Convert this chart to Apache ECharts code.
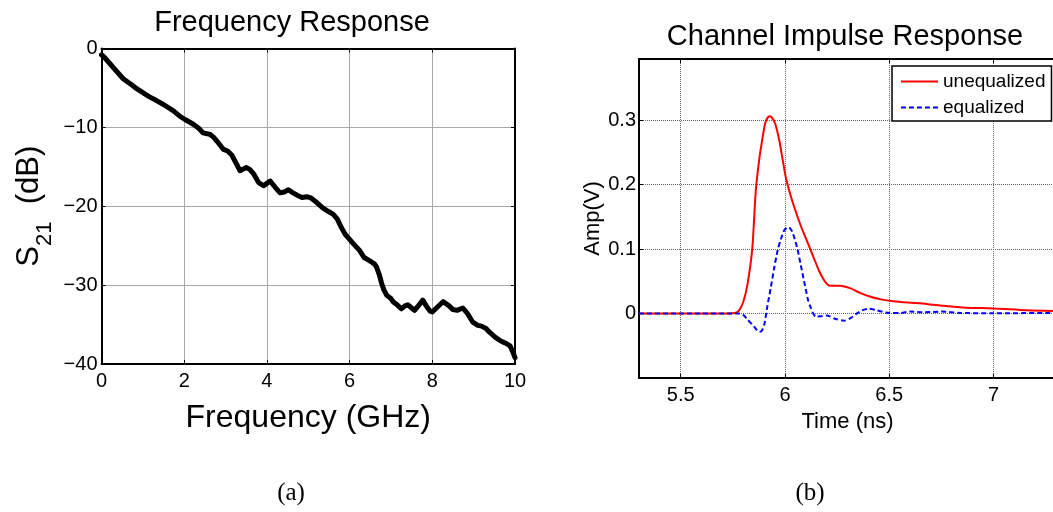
<!DOCTYPE html>
<html><head><meta charset="utf-8">
<script src="https://cdn.jsdelivr.net/npm/echarts@6/dist/echarts.min.js"></script>
<style>html,body{margin:0;padding:0;background:#fff}#c{width:1053px;height:512px}</style>
</head><body><div id="c"></div>
<script>
// ---- Panel (a): Frequency response ----
const freqGHz = [0, 0.05, 0.2, 0.35, 0.52, 0.65, 0.73, 0.85, 1.0, 1.15, 1.33, 1.5, 1.74, 1.9, 2.02, 2.22, 2.35, 2.46, 2.55, 2.63, 2.72, 2.8, 2.95, 3.05, 3.15, 3.27, 3.35, 3.42, 3.5, 3.58, 3.68, 3.8, 3.92, 4.0, 4.08, 4.2, 4.32, 4.42, 4.52, 4.6, 4.73, 4.85, 4.97, 5.05, 5.2, 5.35, 5.5, 5.6, 5.7, 5.8, 5.9, 6.0, 6.1, 6.24, 6.35, 6.48, 6.6, 6.65, 6.72, 6.77, 6.83, 6.9, 7.0, 7.05, 7.15, 7.25, 7.35, 7.41, 7.5, 7.57, 7.65, 7.77, 7.85, 7.95, 8.0, 8.1, 8.26, 8.4, 8.5, 8.6, 8.74, 8.85, 8.98, 9.1, 9.19, 9.3, 9.39, 9.5, 9.6, 9.7, 9.79, 9.88, 9.95, 10.0];
const s21dB = [-0.8, -1.0, -1.9, -2.8, -3.8, -4.3, -4.6, -5.1, -5.6, -6.1, -6.6, -7.1, -7.9, -8.6, -9.0, -9.6, -10.1, -10.7, -10.8, -10.9, -11.3, -11.8, -12.8, -13.0, -13.5, -14.7, -15.5, -15.3, -15.1, -15.3, -15.9, -17.0, -17.4, -17.1, -16.8, -17.6, -18.3, -18.2, -17.9, -18.2, -18.6, -18.9, -18.8, -18.9, -19.5, -20.2, -20.7, -21.0, -21.6, -22.7, -23.6, -24.2, -24.8, -25.6, -26.5, -26.9, -27.3, -27.7, -28.7, -29.7, -30.6, -31.3, -31.7, -32.1, -32.5, -33.0, -32.6, -32.5, -32.9, -33.2, -32.7, -31.9, -32.6, -33.3, -33.4, -32.9, -32.1, -32.6, -33.1, -33.2, -32.9, -33.6, -34.7, -35.1, -35.2, -35.5, -36.0, -36.5, -36.9, -37.2, -37.4, -37.7, -38.5, -39.2];

// ---- Panel (b): Channel impulse response ----
const timeUnNs = [5.3, 5.5, 5.7, 5.76, 5.78, 5.8, 5.82, 5.843, 5.86, 5.875, 5.89, 5.905, 5.917, 5.928, 5.94, 5.953, 5.972, 5.99, 6.005, 6.03, 6.052, 6.075, 6.1, 6.13, 6.164, 6.187, 6.204, 6.22, 6.265, 6.315, 6.36, 6.41, 6.46, 6.52, 6.59, 6.68, 6.76, 6.87, 7.0, 7.16, 7.3];
const unequalizedV = [0, 0, 0, 0.001, 0.005, 0.018, 0.045, 0.1, 0.19, 0.235, 0.268, 0.295, 0.304, 0.306, 0.303, 0.295, 0.27, 0.237, 0.21, 0.18, 0.158, 0.137, 0.117, 0.093, 0.066, 0.052, 0.045, 0.043, 0.043, 0.039, 0.032, 0.026, 0.022, 0.019, 0.017, 0.015, 0.012, 0.009, 0.008, 0.005, 0.004];
const timeEqNs = [5.3, 5.5, 5.78, 5.8, 5.82, 5.851, 5.87, 5.884, 5.9, 5.916, 5.932, 5.948, 5.965, 5.98, 5.998, 6.017, 6.035, 6.06, 6.076, 6.092, 6.11, 6.124, 6.148, 6.175, 6.2, 6.24, 6.284, 6.31, 6.34, 6.37, 6.404, 6.44, 6.5, 6.555, 6.6, 6.67, 6.75, 6.84, 7.0, 7.3];
const equalizedV = [0, 0, 0, -0.002, -0.009, -0.02, -0.027, -0.028, -0.018, 0.012, 0.04, 0.07, 0.098, 0.115, 0.13, 0.134, 0.127, 0.1, 0.075, 0.05, 0.022, 0.009, -0.005, -0.004, -0.003, -0.008, -0.011, -0.008, -0.001, 0.005, 0.0075, 0.005, 0.001, 0.001, 0.003, 0.002, 0.003, 0.001, 0.0005, 0.001];

const seriesNames = ['unequalized', 'equalized'];
const titleA = 'Frequency Response';
const titleB = 'Channel Impulse Response';

const FONT = '"Liberation Sans", Arial, sans-serif';
const zip = (xs, ys) => xs.map((x, i) => [x, ys[i]]);
const minus = v => String(v).replace('-', '\u2212');

const tickIn = { show: true, inside: true, length: 4, lineStyle: { color: '#000', width: 1 } };
const frameLine = { show: true, onZero: false, lineStyle: { color: '#000', width: 2 } };

const chart = echarts.init(document.getElementById('c'), null, { renderer: 'canvas' });
chart.setOption({
  animation: false,
  backgroundColor: '#fff',
  grid: [
    { left: 101.5, top: 48.5, width: 413.5, height: 315.5, outerBoundsMode: 'none', containLabel: false },
    { left: 639, top: 59, width: 417, height: 319, outerBoundsMode: 'none', containLabel: false }
  ],
  xAxis: [
    { gridIndex: 0, type: 'value', min: 0, max: 10, interval: 2, position: 'bottom',
      axisLine: frameLine, axisTick: tickIn,
      axisLabel: { color: '#000', fontSize: 20, fontFamily: FONT, margin: 7 },
      splitLine: { show: true, showMinLine: false, showMaxLine: false, lineStyle: { color: '#a8a8a8', width: 1 } },
      name: 'Frequency (GHz)', nameLocation: 'middle', nameGap: 38,
      nameTextStyle: { color: '#000', fontSize: 32, fontFamily: FONT } },
    { gridIndex: 0, type: 'value', min: 0, max: 10, interval: 2, position: 'top',
      axisLine: frameLine, axisTick: tickIn, axisLabel: { show: false }, splitLine: { show: false } },
    { gridIndex: 1, type: 'value', min: 5.3, max: 7.3, position: 'bottom',
      axisLine: frameLine, axisTick: tickIn,
      axisLabel: { color: '#000', fontSize: 20, fontFamily: FONT, margin: 7, showMinLabel: false, showMaxLabel: false,
        formatter: v => (Math.abs(v * 2 - Math.round(v * 2)) < 1e-6 ? String(+v.toFixed(1)) : '') },
      splitLine: { show: true, showMinLine: false, showMaxLine: false, lineStyle: { color: '#606060', width: 1, type: [1, 1] } },
      name: 'Time (ns)', nameLocation: 'middle', nameGap: 33,
      nameTextStyle: { color: '#000', fontSize: 22, fontFamily: FONT } },
    { gridIndex: 1, type: 'value', min: 5.3, max: 7.3, position: 'top',
      axisLine: frameLine, axisTick: tickIn, axisLabel: { show: false }, splitLine: { show: false } }
  ],
  yAxis: [
    { gridIndex: 0, type: 'value', min: -40, max: 0, interval: 10, position: 'left',
      axisLine: frameLine, axisTick: tickIn,
      axisLabel: { color: '#000', fontSize: 20, fontFamily: FONT, margin: 4, formatter: v => minus(v) },
      splitLine: { show: true, showMinLine: false, showMaxLine: false, lineStyle: { color: '#a8a8a8', width: 1 } },
      name: '{s|S}{sub|21}{s|  (dB)}', nameLocation: 'middle', nameGap: 46,
      nameTextStyle: { color: '#000', fontFamily: FONT,
        rich: { s: { fontSize: 31, fontFamily: FONT, color: '#000' },
                sub: { fontSize: 22, fontFamily: FONT, color: '#000', padding: [30, 0, 0, 0] } } } },
    { gridIndex: 0, type: 'value', min: -40, max: 0, interval: 10, position: 'right',
      axisLine: frameLine, axisTick: tickIn, axisLabel: { show: false }, splitLine: { show: false } },
    { gridIndex: 1, type: 'value', min: -0.1, max: 0.395, interval: 0.1, position: 'left',
      axisLine: frameLine, axisTick: tickIn,
      axisLabel: { color: '#000', fontSize: 20, fontFamily: FONT, margin: 3,
        formatter: v => (Math.abs(v) < 1e-9 ? '0' : (v > 0.35 || v < -0.05) ? '' : String(+v.toFixed(1))) },
      splitLine: { show: true, showMinLine: false, showMaxLine: false, lineStyle: { color: '#606060', width: 1, type: [1, 1] } },
      name: 'Amp(V)', nameLocation: 'middle', nameGap: 35,
      nameTextStyle: { color: '#000', fontSize: 22, fontFamily: FONT } }
  ],
  legend: {
    orient: 'vertical', left: 892, top: 66,
    data: seriesNames,
    itemWidth: 37, itemHeight: 14, itemGap: 7,
    padding: [6, 6, 4, 8],
    borderColor: '#000', borderWidth: 1.5, backgroundColor: '#fff', borderRadius: 0,
    itemStyle: { opacity: 0 },
    textStyle: { color: '#000', fontSize: 19, fontFamily: FONT }
  },
  series: [
    { type: 'line', xAxisIndex: 0, yAxisIndex: 0, data: zip(freqGHz, s21dB), symbol: 'none',
      lineStyle: { color: '#000', width: 5, join: 'round', cap: 'round' }, z: 3 },
    { name: seriesNames[0], type: 'line', xAxisIndex: 2, yAxisIndex: 2, data: zip(timeUnNs, unequalizedV),
      symbol: 'none', smooth: 0.25, color: '#ff0000', lineStyle: { color: '#ff0000', width: 2 }, z: 3 },
    { name: seriesNames[1], type: 'line', xAxisIndex: 2, yAxisIndex: 2, data: zip(timeEqNs, equalizedV),
      symbol: 'none', smooth: 0.25, color: '#0000ff', lineStyle: { color: '#0000ff', width: 2, type: [5, 3] }, z: 4 }
  ],
  graphic: [
    { type: 'text', x: 292, y: 23, style: { text: titleA, font: '29px ' + FONT, fill: '#000', align: 'center', verticalAlign: 'middle' } },
    { type: 'text', x: 845, y: 37, style: { text: titleB, font: '29px ' + FONT, fill: '#000', align: 'center', verticalAlign: 'middle' } },
    { type: 'text', x: 291, y: 493, style: { text: '(a)', font: '25px "Liberation Serif", "Times New Roman", serif', fill: '#000', align: 'center', verticalAlign: 'middle' } },
    { type: 'text', x: 810, y: 493, style: { text: '(b)', font: '25px "Liberation Serif", "Times New Roman", serif', fill: '#000', align: 'center', verticalAlign: 'middle' } }
  ]
});
</script></body></html>
